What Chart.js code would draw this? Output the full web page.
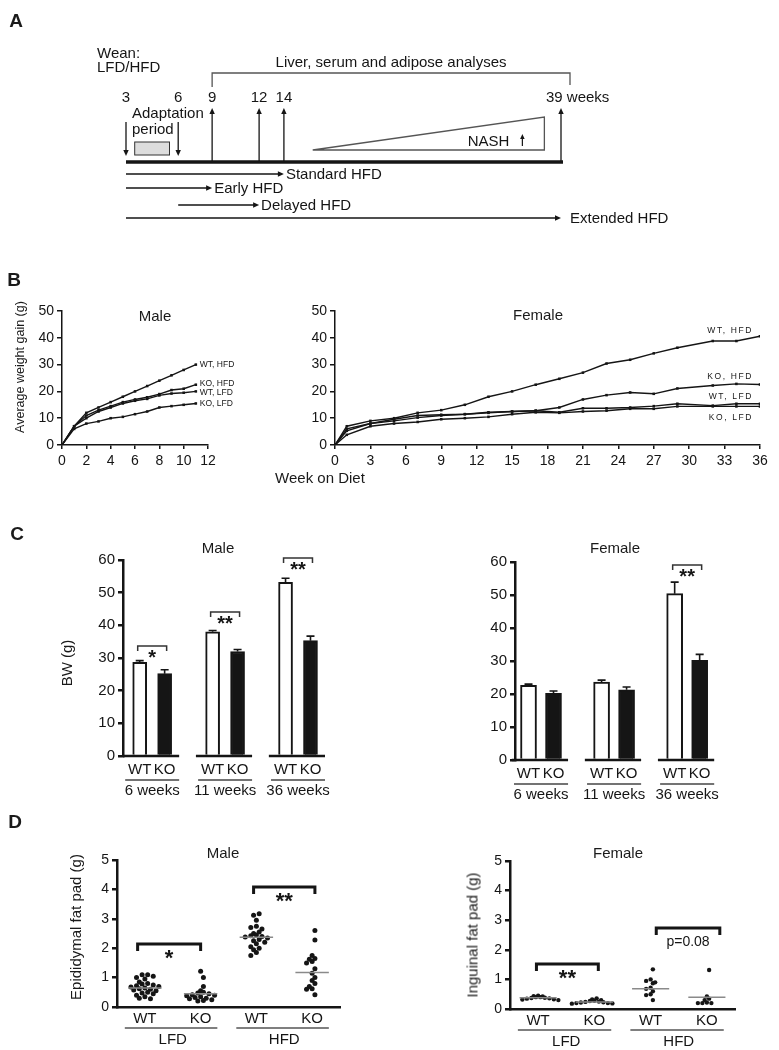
<!DOCTYPE html>
<html>
<head>
<meta charset="utf-8">
<script src="https://cdn.jsdelivr.net/npm/chart.js@4.4.1/dist/chart.umd.min.js"></script>
<style>
  html, body { margin: 0; padding: 0; background: #fff; }
  #fig { position: relative; width: 779px; height: 1050px; overflow: hidden;
         font-family: "Liberation Sans", Arial, sans-serif; color: #1a1a1a; }
  #fig canvas { position: absolute; }
  .lbl { position: absolute; white-space: nowrap; line-height: 1; transform: translate(-50%, -50%); }
  .panel { font-size: 19px; font-weight: bold; }
  .ttl { font-size: 15px; }
  .yt { transform: translate(-50%, -50%) rotate(-90deg); }
</style>
</head>
<body>
<div id="fig">
  <canvas id="schemeA" width="779" height="240" style="left:0;top:0;width:779px;height:240px"></canvas>
  <canvas id="bMale" width="250" height="175" style="left:0;top:295px;width:250px;height:175px"></canvas>
  <canvas id="bFemale" width="499" height="175" style="left:280px;top:295px;width:499px;height:175px"></canvas>
  <canvas id="cMale" width="300" height="270" style="left:40px;top:540px;width:300px;height:270px"></canvas>
  <canvas id="cFemale" width="300" height="270" style="left:430px;top:540px;width:300px;height:270px"></canvas>
  <canvas id="dMale" width="320" height="220" style="left:40px;top:830px;width:320px;height:220px"></canvas>
  <canvas id="dFemale" width="330" height="220" style="left:430px;top:830px;width:330px;height:220px"></canvas>

  <div class="lbl panel" style="left:16px;top:20px">A</div>
  <div class="lbl panel" style="left:14px;top:279px">B</div>
  <div class="lbl panel" style="left:17px;top:533px">C</div>
  <div class="lbl panel" style="left:15px;top:821px">D</div>

  <div class="lbl ttl" style="left:155px;top:315px">Male</div>
  <div class="lbl ttl" style="left:538px;top:314px">Female</div>
  <div class="lbl ttl" style="left:320px;top:477px">Week on Diet</div>
  <div class="lbl yt" style="left:20px;top:367px;font-size:12.5px">Average weight gain (g)</div>

  <div class="lbl ttl" style="left:218px;top:547px">Male</div>
  <div class="lbl ttl" style="left:615px;top:547px">Female</div>
  <div class="lbl yt" style="left:66px;top:663px;font-size:15px">BW (g)</div>

  <div class="lbl ttl" style="left:223px;top:852px">Male</div>
  <div class="lbl ttl" style="left:618px;top:852px">Female</div>
  <div class="lbl yt" style="left:75px;top:927px;font-size:15px">Epididymal fat pad (g)</div>
  <div class="lbl yt" style="left:472px;top:935px;font-size:15px">Inguinal fat pad (g)</div>
</div>
<script>
// ---- A: study design (weeks of age)
const adaptWeeks = [3, 6];
const analysisWeeks = [9, 12, 14, 39];
const regimenNames = ["Standard HFD", "Early HFD", "Delayed HFD", "Extended HFD"];
const regimenStart = [3, 3, 6, 3];
const regimenEnd = [14, 9, 12, 39];

// ---- B: average weight gain (g) by week on diet
const seriesNames = ["WT, HFD", "KO, HFD", "WT, LFD", "KO, LFD"];
const maleWeeks = [0, 1, 2, 3, 4, 5, 6, 7, 8, 9, 10, 11];
const maleWtHfd = [0, 7, 12, 14, 16, 18, 20, 22, 24, 26, 28, 30];
const maleKoHfd = [0, 7, 11, 13, 14.5, 16, 17, 17.8, 19, 20.5, 21, 22.5];
const maleWtLfd = [0, 7, 10, 12.5, 14, 15.5, 16.5, 17.2, 18.5, 19.2, 19.5, 20];
const maleKoLfd = [0, 6, 8, 8.8, 10, 10.5, 11.5, 12.5, 14, 14.5, 15, 15.5];
const femaleWeeks = [0, 1, 3, 5, 7, 9, 11, 13, 15, 17, 19, 21, 23, 25, 27, 29, 32, 34, 36];
const femaleWtHfd = [0, 7, 9, 10, 12, 13, 15, 18, 20, 22.5, 24.7, 27, 30.4, 31.8, 34.2, 36.3, 38.8, 38.8, 40.6];
const femaleKoHfd = [0, 6, 8, 9.6, 11, 11.3, 11.5, 12, 12.5, 12.8, 14, 17, 18.6, 19.6, 19.1, 21.1, 22.2, 22.8, 22.6];
const femaleWtLfd = [0, 5.3, 8, 9, 10.2, 11, 11.5, 12.2, 12.5, 12.8, 12.2, 13.7, 13.7, 14, 14.5, 15.4, 14.7, 15.4, 15.4];
const femaleKoLfd = [0, 3.8, 7, 8, 8.6, 9.6, 10, 10.5, 11.5, 12.2, 12, 12.5, 12.8, 13.5, 13.5, 14.4, 14.4, 14.4, 14.4];

// ---- C: body weight (g)
const bwGroups = ["6 weeks", "11 weeks", "36 weeks"];
const genotypes = ["WT", "KO"];
const maleBwWt = [28.7, 38, 53.2];
const maleBwWtErr = [0.5, 0.4, 1.2];
const maleBwKo = [25.2, 32, 35.3];
const maleBwKoErr = [1.2, 0.6, 1.4];
const maleBwSig = ["*", "**", "**"];
const maleBwSigAt = [33.7, 44.1, 60.6];
const femaleBwWt = [22.6, 23.6, 50.4];
const femaleBwWtErr = [0.4, 0.6, 3.5];
const femaleBwKo = [20.2, 21.3, 30.2];
const femaleBwKoErr = [0.7, 0.8, 1.8];
const femaleBwSig = ["", "", "**"];
const femaleBwSigAt = [null, null, 59.1];

// ---- D: fat pad weight (g), one dot per mouse
const fatDiets = ["LFD", "HFD"];
const fatCats = ["WT", "KO", "WT", "KO"];
const maleFatLfdWt = [1.1, 1.1, 1.05, 1.0, 0.95, 0.85, 0.8, 0.78, 0.75, 0.72, 0.7, 0.68, 0.65, 0.62, 0.6, 0.58, 0.55, 0.5, 0.48, 0.45, 0.4, 0.35, 0.3, 0.28];
const maleFatLfdKo = [1.22, 1.0, 0.7, 0.55, 0.5, 0.48, 0.45, 0.42, 0.4, 0.38, 0.35, 0.32, 0.3, 0.28, 0.25, 0.22, 0.2];
const maleFatHfdWt = [3.17, 3.12, 2.95, 2.75, 2.7, 2.65, 2.55, 2.5, 2.45, 2.42, 2.4, 2.38, 2.35, 2.3, 2.25, 2.2, 2.15, 2.05, 2.0, 1.95, 1.85, 1.75];
const maleFatHfdKo = [2.6, 2.28, 1.75, 1.65, 1.62, 1.55, 1.5, 1.3, 1.15, 1.0, 0.9, 0.8, 0.7, 0.62, 0.6, 0.42];
const maleFatMedian = [0.65, 0.45, 2.37, 1.17];
const maleFatSig = ["*", "**"];
const maleFatSigAt = [2.14, 4.08];
const femaleFatLfdWt = [0.45, 0.43, 0.42, 0.4, 0.4, 0.38, 0.37, 0.36, 0.35, 0.33, 0.32, 0.3];
const femaleFatLfdKo = [0.36, 0.32, 0.3, 0.28, 0.27, 0.25, 0.24, 0.23, 0.22, 0.2, 0.2, 0.19, 0.18];
const femaleFatHfdWt = [1.34, 1.0, 0.95, 0.9, 0.87, 0.72, 0.68, 0.6, 0.5, 0.47, 0.3];
const femaleFatHfdKo = [1.32, 0.42, 0.35, 0.3, 0.22, 0.2, 0.2, 0.2];
const femaleFatMedian = [0.38, 0.24, 0.68, 0.4];
const femaleFatSig = ["**", "p=0.08"];
const femaleFatSigAt = [1.52, 2.74];

const FONT = '"Liberation Sans", Arial, sans-serif';
const INK = "#151515";
Chart.defaults.font.family = FONT;
Chart.defaults.color = INK;
Chart.defaults.animation = false;
Chart.defaults.responsive = false;
Chart.defaults.plugins.legend.display = false;
Chart.defaults.plugins.tooltip.enabled = false;

// the schematic time line is not drawn to scale: piecewise axis through these anchors
const timelineAnchorWeeks = [3, 6, 9, 12, 14, 39];
const timelineAnchorFrac = [0, 0.12, 0.198, 0.306, 0.363, 1];
class TimelineScale extends Chart.LinearScale {
  static id = "timeline";
  static defaults = {};
  getPixelForValue(value) {
    const w = timelineAnchorWeeks, f = timelineAnchorFrac;
    let i = 1;
    while (i < w.length - 1 && value > w[i]) i++;
    const t = (value - w[i - 1]) / (w[i] - w[i - 1]);
    return this.getPixelForDecimal(f[i - 1] + t * (f[i] - f[i - 1]));
  }
}
Chart.register(TimelineScale);

const fixedWidth = (w) => (axis) => { axis.width = w; };
const fixedHeight = (h) => (axis) => { axis.height = h; };

function valueAxis(max, step, width, size, lw) {
  return {
    min: 0, max,
    ticks: { stepSize: step, font: { size }, padding: 3, color: INK },
    grid: { drawOnChartArea: false, tickLength: 5, color: INK, lineWidth: lw },
    border: { color: INK, width: lw },
    afterFit: fixedWidth(width),
  };
}

function arrow(ctx, x1, y1, x2, y2, head, lw) {
  const a = Math.atan2(y2 - y1, x2 - x1);
  const c = Math.cos(a), s = Math.sin(a);
  ctx.lineWidth = lw;
  ctx.beginPath();
  ctx.moveTo(x1, y1);
  ctx.lineTo(x2 - c * head * 0.8, y2 - s * head * 0.8);
  ctx.stroke();
  ctx.beginPath();
  ctx.moveTo(x2, y2);
  ctx.lineTo(x2 - head * c + head * 0.45 * s, y2 - head * s - head * 0.45 * c);
  ctx.lineTo(x2 - head * c - head * 0.45 * s, y2 - head * s + head * 0.45 * c);
  ctx.closePath();
  ctx.fill();
}

// ---------- A
const schemeRows = {
  bracket: 73, bracketFoot: 87, title: 67, wean: 58, numbers: 102, adapt: 118, period: 134,
  boxTop: 142, boxBottom: 155, downFrom: 122, downTo: 156, upTo: 108, timeline: 162,
  wedgeTop: 117, wedgeBase: 150, nash: 146, regimen: [174, 188, 205, 218],
};
const schemeWedge = [16.6, 37.5];
const schemeBox = [3.5, 5.5];
const schemePlugin = {
  id: "scheme",
  afterDraw(chart) {
    const ctx = chart.ctx;
    const sx = (v) => chart.scales.x.getPixelForValue(v);
    const sy = (v) => chart.scales.y.getPixelForValue(v);
    const R = schemeRows;
    const last = analysisWeeks[analysisWeeks.length - 1];
    ctx.save();
    ctx.strokeStyle = INK;
    ctx.fillStyle = INK;
    ctx.font = `15px ${FONT}`;
    ctx.textBaseline = "alphabetic";

    ctx.fillText("Wean:", 97, sy(R.wean));
    ctx.fillText("LFD/HFD", 97, sy(R.wean + 14));

    // analysis bracket
    const bx1 = sx(analysisWeeks[0]), bx2 = sx(last) + 9;
    ctx.strokeStyle = "#555";
    ctx.lineWidth = 1.3;
    ctx.beginPath();
    ctx.moveTo(bx1, sy(R.bracketFoot));
    ctx.lineTo(bx1, sy(R.bracket));
    ctx.lineTo(bx2, sy(R.bracket));
    ctx.lineTo(bx2, sy(R.bracketFoot - 2));
    ctx.stroke();
    ctx.textAlign = "center";
    ctx.fillText("Liver, serum and adipose analyses", (bx1 + bx2) / 2, sy(R.title));

    // week numbers
    adaptWeeks.concat(analysisWeeks.slice(0, -1)).forEach((w) => ctx.fillText(String(w), sx(w), sy(R.numbers)));
    ctx.textAlign = "left";
    ctx.fillText(`${last} weeks`, sx(last) - 15, sy(R.numbers));
    ctx.fillText("Adaptation", sx(adaptWeeks[0]) + 6, sy(R.adapt));
    ctx.fillText("period", sx(adaptWeeks[0]) + 6, sy(R.period));

    ctx.fillStyle = "#ddd";
    ctx.strokeStyle = "#333";
    ctx.lineWidth = 1;
    const bxl = sx(schemeBox[0]), bxr = sx(schemeBox[1]);
    ctx.fillRect(bxl, sy(R.boxTop), bxr - bxl, sy(R.boxBottom) - sy(R.boxTop));
    ctx.strokeRect(bxl, sy(R.boxTop), bxr - bxl, sy(R.boxBottom) - sy(R.boxTop));

    ctx.fillStyle = INK;
    ctx.strokeStyle = INK;
    adaptWeeks.forEach((w) => arrow(ctx, sx(w), sy(R.downFrom), sx(w), sy(R.downTo), 6, 1.3));
    analysisWeeks.forEach((w) => arrow(ctx, sx(w), sy(R.timeline), sx(w), sy(R.upTo), 6, 1.3));

    ctx.lineWidth = 3.5;
    ctx.beginPath();
    ctx.moveTo(sx(adaptWeeks[0]), sy(R.timeline));
    ctx.lineTo(sx(last) + 2, sy(R.timeline));
    ctx.stroke();

    // NASH wedge
    ctx.strokeStyle = "#555";
    ctx.lineWidth = 1.3;
    ctx.beginPath();
    ctx.moveTo(sx(schemeWedge[0]), sy(R.wedgeBase));
    ctx.lineTo(sx(schemeWedge[1]), sy(R.wedgeTop));
    ctx.lineTo(sx(schemeWedge[1]), sy(R.wedgeBase));
    ctx.closePath();
    ctx.stroke();
    ctx.textAlign = "right";
    ctx.fillText("NASH", sx(schemeWedge[1]) - 35, sy(R.nash));
    ctx.strokeStyle = INK;
    arrow(ctx, sx(schemeWedge[1]) - 22, sy(R.nash), sx(schemeWedge[1]) - 22, sy(R.nash - 12), 5, 1.2);

    // diet regimens
    ctx.textAlign = "left";
    regimenNames.forEach((name, i) => {
      const y = sy(R.regimen[i]);
      const xe = sx(regimenEnd[i]);
      arrow(ctx, sx(regimenStart[i]), y, xe, y, 6, 1.3);
      ctx.fillText(name, xe + (i === 3 ? 9 : 2), y + 5);
    });
    ctx.restore();
  },
};

new Chart(document.getElementById("schemeA"), {
  type: "scatter",
  data: { datasets: [{ data: analysisWeeks.map((w) => ({ x: w, y: schemeRows.timeline })), pointRadius: 0 }] },
  options: {
    layout: { padding: { left: 126, right: 218, top: 0, bottom: 0 } },
    scales: {
      x: { type: "timeline", display: false, min: 3, max: 39 },
      y: { display: false, min: 0, max: 240, reverse: true },
    },
  },
  plugins: [schemePlugin],
});

// ---------- B
function endLabels(cfg) {
  return {
    id: "endLabels",
    afterDatasetsDraw(chart) {
      const ctx = chart.ctx;
      ctx.save();
      ctx.font = `${cfg.size}px ${FONT}`;
      ctx.fillStyle = INK;
      ctx.textBaseline = "middle";
      ctx.textAlign = cfg.align;
      if (cfg.spacing) ctx.letterSpacing = cfg.spacing;
      chart.data.datasets.forEach((ds, i) => {
        const pts = chart.getDatasetMeta(i).data;
        const end = pts[pts.length - 1];
        const x = cfg.align === "left" ? end.x + cfg.dx : chart.chartArea.right + cfg.dx;
        ctx.fillText(seriesNames[i], x, end.y + cfg.dy[i]);
      });
      ctx.restore();
    },
  };
}

function gainChart(id, weeks, series, geo, labels) {
  return new Chart(document.getElementById(id), {
    type: "line",
    data: {
      datasets: series.map((vals) => ({
        data: weeks.map((w, i) => ({ x: w, y: vals[i] })),
        borderColor: INK,
        borderWidth: 1.4,
        pointStyle: "rect",
        pointRadius: 1.8,
        pointBackgroundColor: INK,
        pointBorderWidth: 0,
        tension: 0,
      })),
    },
    options: {
      layout: { padding: { top: geo.padTop, right: geo.padRight, left: 0, bottom: 0 } },
      scales: {
        x: {
          type: "linear", min: 0, max: geo.xMax,
          ticks: { stepSize: geo.xStep, font: { size: 14 }, padding: 4, color: INK, maxRotation: 0 },
          grid: { drawOnChartArea: false, tickLength: 4, color: INK, lineWidth: 1.5 },
          border: { color: INK, width: 1.5 },
          afterFit: fixedHeight(geo.xh),
        },
        y: valueAxis(50, 10, geo.yw, 14, 1.5),
      },
    },
    plugins: [endLabels(labels)],
  });
}

gainChart("bMale", maleWeeks, [maleWtHfd, maleKoHfd, maleWtLfd, maleKoLfd],
  { padTop: 16, padRight: 42, xh: 25, yw: 62, xMax: 12, xStep: 2 },
  { size: 8.5, align: "left", dx: 4, dy: [0, -1, 1, 0] });
gainChart("bFemale", femaleWeeks, [femaleWtHfd, femaleKoHfd, femaleWtLfd, femaleKoLfd],
  { padTop: 16, padRight: 19, xh: 25, yw: 55, xMax: 36, xStep: 3 },
  { size: 8.5, align: "right", dx: -7, dy: [-6, -8, -7, 11], spacing: "1.6px" });

// ---------- C
function bwDecor(wtErr, koErr, sig, sigAt, dodge) {
  return {
    id: "bwDecor",
    afterDraw(chart) {
      const ctx = chart.ctx;
      const xs = chart.scales.x, ys = chart.scales.y;
      const y0 = ys.getPixelForValue(0);
      ctx.save();
      ctx.strokeStyle = INK;
      ctx.fillStyle = INK;
      // error bars
      [wtErr, koErr].forEach((errs, d) => {
        chart.getDatasetMeta(d).data.forEach((bar, i) => {
          const v = chart.data.datasets[d].data[i].y;
          const yt = ys.getPixelForValue(v + errs[i]);
          ctx.lineWidth = 1.6;
          ctx.beginPath();
          ctx.moveTo(bar.x, bar.y);
          ctx.lineTo(bar.x, yt);
          ctx.moveTo(bar.x - 4, yt);
          ctx.lineTo(bar.x + 4, yt);
          ctx.stroke();
        });
      });
      // broken baseline and group labels
      bwGroups.forEach((g, i) => {
        const c = i + 1;
        ctx.lineWidth = 2.5;
        ctx.beginPath();
        ctx.moveTo(xs.getPixelForValue(c - 0.4), y0);
        ctx.lineTo(xs.getPixelForValue(c + 0.37), y0);
        ctx.stroke();
        ctx.lineWidth = 1.6;
        ctx.strokeStyle = "#444";
        ctx.beginPath();
        ctx.moveTo(xs.getPixelForValue(c - 0.37), y0 + 24);
        ctx.lineTo(xs.getPixelForValue(c + 0.37), y0 + 24);
        ctx.stroke();
        ctx.strokeStyle = INK;
        ctx.font = `15px ${FONT}`;
        ctx.textAlign = "center";
        ctx.fillText(g, xs.getPixelForValue(c), y0 + 39);
        if (!sig[i]) return;
        const x1 = xs.getPixelForValue(c - dodge) - 2, x2 = xs.getPixelForValue(c + dodge) + 2;
        const yb = ys.getPixelForValue(sigAt[i]);
        ctx.lineWidth = 1.5;
        ctx.strokeStyle = "#333";
        ctx.beginPath();
        ctx.moveTo(x1, yb + 5);
        ctx.lineTo(x1, yb);
        ctx.lineTo(x2, yb);
        ctx.lineTo(x2, yb + 5);
        ctx.stroke();
        ctx.strokeStyle = INK;
        ctx.font = `bold 20px ${FONT}`;
        ctx.fillText(sig[i], (x1 + x2) / 2, yb + 7 + 11);
      });
      ctx.restore();
    },
  };
}

function bwChart(id, wt, wtErr, ko, koErr, sig, sigAt, geo) {
  const dodge = 0.171;
  const pts = (vals, side) => vals.map((v, i) => ({ x: i + 1 + side * dodge, y: v }));
  return new Chart(document.getElementById(id), {
    type: "bar",
    data: {
      datasets: [
        { data: pts(wt, -1), backgroundColor: "#fff", borderColor: INK, borderWidth: 2, grouped: false, barThickness: geo.barW },
        { data: pts(ko, 1), backgroundColor: INK, borderColor: INK, borderWidth: 2, grouped: false, barThickness: geo.barW },
      ],
    },
    options: {
      layout: { padding: { top: geo.padTop, right: geo.padRight, left: 0, bottom: 0 } },
      scales: {
        x: {
          type: "linear", min: geo.xMin, max: geo.xMax, offset: false,
          afterBuildTicks: (axis) => {
            axis.ticks = bwGroups.flatMap((g, i) => [{ value: i + 1 - dodge }, { value: i + 1 + dodge }]);
          },
          ticks: { callback: (v, i) => genotypes[i % 2], font: { size: 15 }, padding: 5, color: INK, autoSkip: false, maxRotation: 0 },
          grid: { display: false, drawTicks: false, offset: false },
          border: { display: false },
          afterFit: fixedHeight(geo.xh),
        },
        y: valueAxis(60, 10, geo.yw, 15, 2.5),
      },
    },
    plugins: [bwDecor(wtErr, koErr, sig, sigAt, dodge)],
  });
}

bwChart("cMale", maleBwWt, maleBwWtErr, maleBwKo, maleBwKoErr, maleBwSig, maleBwSigAt,
  { padTop: 20, padRight: 15, xh: 54, yw: 83, xMin: 0.6, xMax: 3.37, barW: 14 });
bwChart("cFemale", femaleBwWt, femaleBwWtErr, femaleBwKo, femaleBwKoErr, femaleBwSig, femaleBwSigAt,
  { padTop: 22, padRight: 18, xh: 50, yw: 85, xMin: 0.644, xMax: 3.34, barW: 16 });

// ---------- D
function swarm(values, cat, binSize, step) {
  const bins = {};
  return values.map((v) => {
    const b = Math.round(v / binSize);
    const k = (bins[b] = (bins[b] === undefined ? -1 : bins[b]) + 1);
    const off = k === 0 ? 0 : (k % 2 ? -1 : 1) * Math.ceil(k / 2) * step;
    return { x: cat + off + (b % 2 ? step / 2 : 0), y: v };
  });
}

function fatDecor(medians, sig, sigAt, geo) {
  return {
    id: "fatDecor",
    afterDraw(chart) {
      const ctx = chart.ctx;
      const xs = chart.scales.x, ys = chart.scales.y;
      const y0 = ys.getPixelForValue(0);
      ctx.save();
      // group lines
      ctx.strokeStyle = "#8a8a8a";
      ctx.lineWidth = 1.5;
      medians.forEach((m, i) => {
        const y = ys.getPixelForValue(m);
        ctx.beginPath();
        ctx.moveTo(xs.getPixelForValue(i + 1 - geo.medHalf), y);
        ctx.lineTo(xs.getPixelForValue(i + 1 + geo.medHalf), y);
        ctx.stroke();
      });
      fatDiets.forEach((diet, k) => {
        const c1 = 2 * k + 1, c2 = 2 * k + 2;
        // diet underline and label
        ctx.strokeStyle = "#555";
        ctx.lineWidth = 1.5;
        ctx.beginPath();
        ctx.moveTo(xs.getPixelForValue(c1 - 0.36), y0 + 21);
        ctx.lineTo(xs.getPixelForValue(c2 + 0.3), y0 + 21);
        ctx.stroke();
        ctx.fillStyle = INK;
        ctx.font = `15px ${FONT}`;
        ctx.textAlign = "center";
        ctx.fillText(diet, xs.getPixelForValue((c1 + c2) / 2), y0 + 37);
        // significance bracket
        const x1 = xs.getPixelForValue(c1 + geo.brL[k]), x2 = xs.getPixelForValue(c2 + geo.brR[k]);
        const yb = ys.getPixelForValue(sigAt[k]);
        ctx.strokeStyle = INK;
        ctx.lineWidth = 3;
        ctx.beginPath();
        ctx.moveTo(x1, yb + 7);
        ctx.lineTo(x1, yb);
        ctx.lineTo(x2, yb);
        ctx.lineTo(x2, yb + 7);
        ctx.stroke();
        const star = sig[k].startsWith("*");
        ctx.font = star ? `bold 22px ${FONT}` : `14px ${FONT}`;
        ctx.fillText(sig[k], (x1 + x2) / 2, star ? yb + 9 + 12 : yb + 18);
      });
      ctx.restore();
    },
  };
}

function fatChart(id, groups, medians, sig, sigAt, geo) {
  return new Chart(document.getElementById(id), {
    type: "scatter",
    data: {
      datasets: groups.map((vals, i) => ({
        data: swarm(vals, i + 1, geo.bin, geo.step),
        pointRadius: geo.r,
        pointBackgroundColor: INK,
        pointBorderWidth: 0,
      })),
    },
    options: {
      layout: { padding: { top: geo.padTop, right: geo.padRight, left: 0, bottom: 0 } },
      scales: {
        x: {
          type: "linear", min: 0.5, max: 4.5,
          afterBuildTicks: (axis) => { axis.ticks = fatCats.map((c, i) => ({ value: i + 1 })); },
          ticks: { callback: (v, i) => fatCats[i], font: { size: 15 }, padding: 3, color: INK, autoSkip: false, maxRotation: 0 },
          grid: { display: false, drawTicks: false },
          border: { color: INK, width: 2.5 },
          afterFit: fixedHeight(geo.xh),
        },
        y: valueAxis(5, 1, geo.yw, 14, 2.5),
      },
    },
    plugins: [fatDecor(medians, sig, sigAt, geo)],
  });
}

fatChart("dMale", [maleFatLfdWt, maleFatLfdKo, maleFatHfdWt, maleFatHfdKo], maleFatMedian, maleFatSig, maleFatSigAt,
  { padTop: 30, padRight: 20, xh: 43, yw: 77, bin: 0.15, step: 0.1, r: 2.5, medHalf: 0.3, brL: [-0.13, -0.05], brR: [0.0, 0.05] });
fatChart("dFemale", [femaleFatLfdWt, femaleFatLfdKo, femaleFatHfdWt, femaleFatHfdKo], femaleFatMedian, femaleFatSig, femaleFatSigAt,
  { padTop: 31, padRight: 25, xh: 41, yw: 80, bin: 0.12, step: 0.08, r: 2.2, medHalf: 0.33, brL: [-0.03, 0.1], brR: [0.07, 0.23] });
</script>
</body>
</html>
